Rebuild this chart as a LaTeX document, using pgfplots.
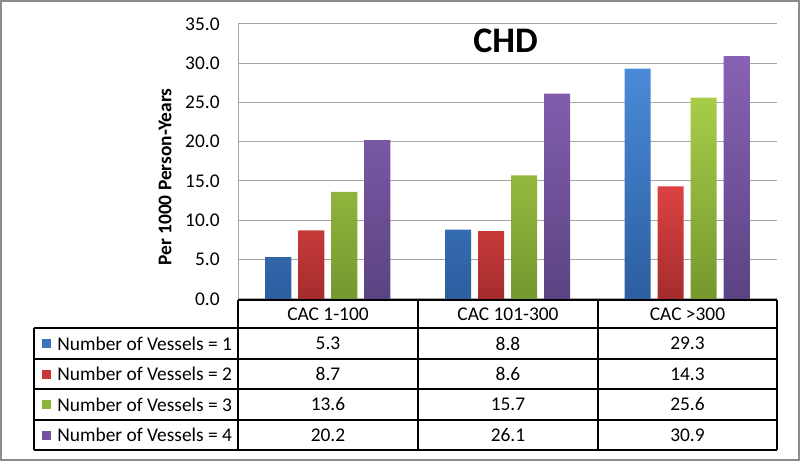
\documentclass[border=0pt]{standalone}
\usepackage{fontspec}
\setmainfont{Carlito}
\usepackage{pgfplots}
\pgfplotsset{compat=1.18}
\definecolor{btop}{HTML}{4A8AD8}\definecolor{bbot}{HTML}{2C5E9F}\definecolor{bkey}{HTML}{3A74BF}
\definecolor{rtop}{HTML}{DC4242}\definecolor{rbot}{HTML}{A52C2C}\definecolor{rkey}{HTML}{C83838}
\definecolor{gtop}{HTML}{A8CC48}\definecolor{gbot}{HTML}{74982E}\definecolor{gkey}{HTML}{8EB43C}
\definecolor{ptop}{HTML}{8862B4}\definecolor{pbot}{HTML}{5B4383}\definecolor{pkey}{HTML}{73539F}
\definecolor{gridgray}{HTML}{A6A6A6}
\definecolor{framegray}{HTML}{8C8C8C}
\begin{document}
\fontsize{9.7}{11.6}\selectfont
\begin{tikzpicture}
\begin{axis}[
  at={(119pt,-149.4pt)}, anchor=south west,
  scale only axis, width=269.5pt, height=137.5pt,
  xmin=-0.5, xmax=2.5, ymin=0, ymax=35,
  xtick=\empty, ytick={0,5,...,35},
  ymajorgrids, grid style={line width=0.5pt, color=gridgray},
  axis x line*=bottom, axis y line*=left,
  axis line style={-, line width=0.5pt, gridgray},
  major tick length=0pt,
  /pgf/number format/fixed, /pgf/number format/fixed zerofill,
  /pgf/number format/precision=1, /pgf/number format/assume math mode=true,
  yticklabel style={anchor=east, inner sep=0pt, xshift=-9pt, font=\fontsize{9.7}{11.6}\selectfont},
  ybar=3.5pt, bar width=13pt, clip=false,
]
\addplot[draw=none, top color=btop, bottom color=bbot] coordinates {(0,5.3) (1,8.8) (2,29.3)};
\addplot[draw=none, top color=rtop, bottom color=rbot] coordinates {(0,8.7) (1,8.6) (2,14.3)};
\addplot[draw=none, top color=gtop, bottom color=gbot] coordinates {(0,13.6) (1,15.7) (2,25.6)};
\addplot[draw=none, top color=ptop, bottom color=pbot] coordinates {(0,20.2) (1,26.1) (2,30.9)};
\end{axis}
\begin{scope}[x=0.5pt, y=-0.5pt]
\path (0,0) rectangle (800,461);
\draw[framegray, line width=1pt] (1,1) rectangle (799,460);
\node[font=\fontsize{18}{21}\selectfont\bfseries] at (505.6,41) {CHD};
\node[rotate=90, font=\fontsize{9.7}{11.6}\selectfont\bfseries] at (165,177) {Per 1000 Person-Years};
% table
\draw[black, line width=1pt] (238,300) -- (777,300);
\foreach \yy in {328.3,359,389,420,450} \draw[black, line width=1pt] (34,\yy) -- (777,\yy);
\draw[black, line width=1pt] (34,328.3) -- (34,450);
\foreach \xx in {238,418,598,777} \draw[black, line width=1pt] (\xx,300) -- (\xx,450);
\node at (328,314) {CAC 1-100};
\node at (508,314) {CAC 101-300};
\node at (687.5,314) {CAC >300};
\fill[bkey] (41.7,339) rectangle (50.7,348);
\fill[rkey] (41.7,369.5) rectangle (50.7,378.5);
\fill[gkey] (41.7,400) rectangle (50.7,409);
\fill[pkey] (41.7,430.5) rectangle (50.7,439.5);
\node[anchor=west, inner sep=0pt] at (57,343.5) {Number of Vessels = 1};
\node[anchor=west, inner sep=0pt] at (57,374) {Number of Vessels = 2};
\node[anchor=west, inner sep=0pt] at (57,404.5) {Number of Vessels = 3};
\node[anchor=west, inner sep=0pt] at (57,435) {Number of Vessels = 4};
\node at (328,343.5) {5.3};  \node at (508,343.5) {8.8};  \node at (687.5,343.5) {29.3};
\node at (328,374) {8.7};    \node at (508,374) {8.6};    \node at (687.5,374) {14.3};
\node at (328,404.5) {13.6}; \node at (508,404.5) {15.7}; \node at (687.5,404.5) {25.6};
\node at (328,435) {20.2};   \node at (508,435) {26.1};   \node at (687.5,435) {30.9};
\end{scope}
\end{tikzpicture}
\end{document}
